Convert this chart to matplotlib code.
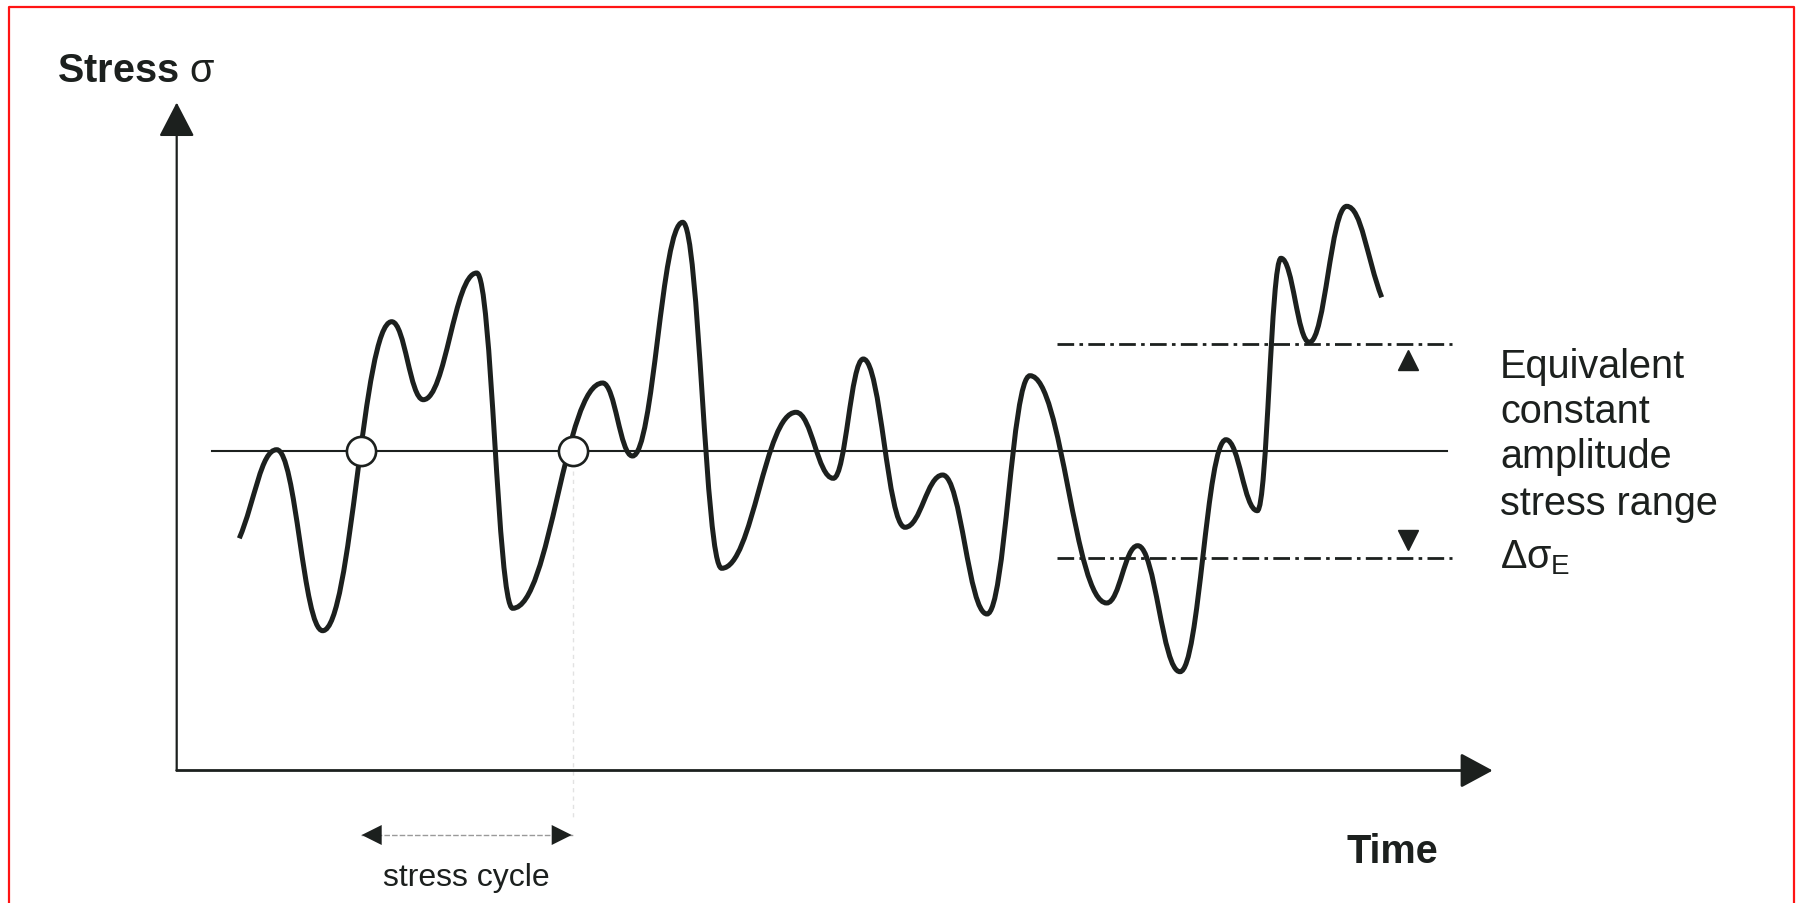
import matplotlib
matplotlib.use("Agg")
import matplotlib.pyplot as plt
from matplotlib.path import Path
from matplotlib.patches import PathPatch
from matplotlib.lines import Line2D

plt.rcParams['font.family'] = ['Liberation Sans', 'DejaVu Sans']
plt.rcParams['mathtext.fontset'] = 'custom'
plt.rcParams['mathtext.rm'] = 'Liberation Sans'
plt.rcParams['mathtext.it'] = 'Liberation Sans'

# stress history: turning points (time, stress), first and last are the open ends
time_pts = [6.26, 10.0, 14.6, 21.5, 24.66, 30.0, 33.6, 42.6, 45.58, 50.6,
            54.5, 61.93, 65.66, 68.66, 72.83, 76.6, 81.03, 85.33, 93.0, 96.1,
            100.33, 104.93, 108.06, 110.43, 113.26, 117.0, 120.5]
stress_pts = [23.22, 32.08, 13.98, 44.88, 37.08, 49.75, 16.22, 38.75, 31.45, 54.82,
              20.22, 35.82, 29.22, 41.15, 24.32, 29.55, 15.65, 39.48, 16.75, 22.48,
              9.88, 33.08, 25.98, 51.22, 42.82, 56.42, 47.32]

mean_stress = 32.0
mean_span = (3.5, 127.0)
range_upper = 42.7
range_lower = 21.3
range_span = (88.0, 127.5)
cycle_times = [18.4, 39.6]          # upward crossings of the mean
axis_top = 66.8
axis_right = 131.6

ink = '#1c201e'

fig = plt.figure(figsize=(17.97, 9.04), dpi=100)
ax = fig.add_axes([0, 0, 1, 1])
ax.set_xlim(-17.67, 162.03)
ax.set_ylim(-13.25, 77.15)
ax.axis('off')

# smooth curve through the turning points (horizontal tangents at extrema)
k = 0.42
verts = [(time_pts[0], stress_pts[0])]
codes = [Path.MOVETO]
n = len(time_pts)
for i in range(n - 1):
    t0, s0 = time_pts[i], stress_pts[i]
    t1, s1 = time_pts[i + 1], stress_pts[i + 1]
    dt = t1 - t0
    m0 = (s1 - s0) / dt if i == 0 else 0.0
    m1 = (s1 - s0) / dt if i + 1 == n - 1 else 0.0
    verts += [(t0 + k * dt, s0 + m0 * k * dt),
              (t1 - k * dt, s1 - m1 * k * dt),
              (t1, s1)]
    codes += [Path.CURVE4] * 3
ax.add_patch(PathPatch(Path(verts, codes), facecolor='none', edgecolor=ink,
                       lw=3.6, capstyle='butt', zorder=3))

# mean stress line
ax.plot(mean_span, [mean_stress, mean_stress], color=ink, lw=1.5, zorder=2)

# equivalent constant amplitude range
for lvl in (range_upper, range_lower):
    ax.plot(range_span, [lvl, lvl], color=ink, lw=2.0,
            linestyle=(0, (6, 1.9, 1.3, 1.9)), zorder=2)
ax.plot([123.1], [range_upper - 1.6], marker='^', ms=14, color=ink, zorder=4)
ax.plot([123.1], [range_lower + 1.8], marker='v', ms=14, color=ink, zorder=4)

# cycle markers on the mean line
ax.plot(cycle_times, [mean_stress] * 2, 'o', ms=21, mfc='white', mec=ink,
        mew=1.9, zorder=5)
ax.plot([cycle_times[1]] * 2, [mean_stress - 2, -5], color='#e2e2e2', lw=1,
        linestyle=(0, (3, 3)), zorder=1)

# axes with arrow heads
ax.annotate('', xy=(0, axis_top), xytext=(0, 0),
            arrowprops=dict(arrowstyle='-|>,head_length=2.16,head_width=1.12',
                            mutation_scale=10, color=ink, lw=1.6,
                            shrinkA=0, shrinkB=0))
ax.annotate('', xy=(axis_right, 0), xytext=(0, 0),
            arrowprops=dict(arrowstyle='-|>,head_length=2.0,head_width=1.08',
                            mutation_scale=10, color=ink, lw=2.0,
                            shrinkA=0, shrinkB=0))

# stress cycle span
cy = -6.45
ax.plot(cycle_times, [cy, cy], color='#9a9a9a', lw=1.0,
        linestyle=(0, (4, 1.5)), zorder=1)
ax.annotate('', xy=(cycle_times[1] - 0.1, cy), xytext=(cycle_times[0] + 0.1, cy),
            arrowprops=dict(arrowstyle='<|-|>,head_length=1.44,head_width=0.72',
                            mutation_scale=10, color=ink, lw=0,
                            shrinkA=0, shrinkB=0))

# labels
ax.text(-12.0, 68.98, r'Stress $\sigma$', fontsize=28.5, fontweight='bold',
        color=ink, ha='left', va='baseline')
ax.text(117.0, -9.15, 'Time', fontsize=28.5, fontweight='bold', color=ink,
        ha='left', va='baseline')
ax.text(sum(cycle_times) / 2, -11.45, 'stress cycle', fontsize=23, color=ink,
        ha='center', va='baseline')

right_lines = ['Equivalent', 'constant', 'amplitude', 'stress range']
right_base = [39.35, 34.85, 30.35, 25.65]
for txt, yb in zip(right_lines, right_base):
    ax.text(132.33, yb, txt, fontsize=28.5, color=ink, ha='left', va='baseline')
ax.text(132.33, 20.35, r'$\Delta\sigma_{\mathrm{E}}$', fontsize=28.5, color=ink,
        ha='left', va='baseline')

# red frame
fx0, fx1, fy1 = 8.5 / 1797, 1794 / 1797, 1 - 7.5 / 904
fig.add_artist(Line2D([fx0, fx0, fx1, fx1], [-0.01, fy1, fy1, -0.01],
                      transform=fig.transFigure, color='#ff1414', lw=1.6))

fig.savefig('out.png', dpi=100, facecolor='white')
